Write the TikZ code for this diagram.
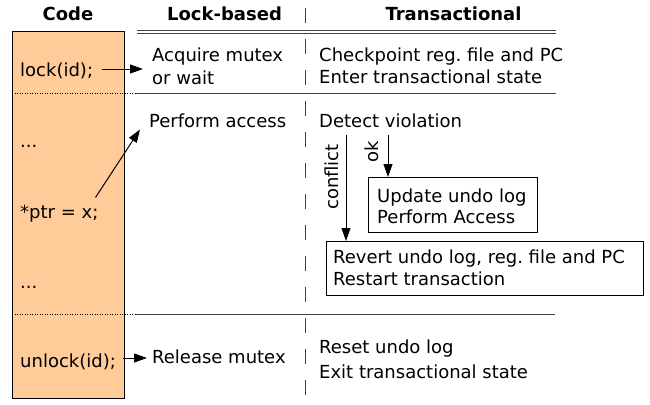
\documentclass[tikz,border=0pt]{standalone}
\usepackage{fontspec}
\setmainfont{DejaVu Sans}
\usetikzlibrary{arrows.meta}
\definecolor{codepeach}{HTML}{FFCC99}
\definecolor{rulegray}{HTML}{404040}

\begin{document}
\begin{tikzpicture}[x=1pt,y=-1pt,
  txt/.style={anchor=base west, inner sep=0pt, font=\fontsize{18}{22}\selectfont},
  hdr/.style={anchor=base, inner sep=0pt, font=\fontsize{18}{22}\selectfont\bfseries},
  arr/.style={-{Triangle[length=13pt,width=9pt]}, line width=1pt},
  rowline/.style={draw=rulegray, line width=1pt},
  dotline/.style={draw=black, line width=0.8pt, dash pattern=on 1pt off 1.5pt},
  colsep/.style={draw=rulegray, line width=1pt, dash pattern=on 15pt off 16pt},
  stepbox/.style={draw, line width=1pt, anchor=north west, inner sep=0pt}
]
\useasboundingbox (0,0) rectangle (650,404);

% code column
\node[draw, fill=codepeach, line width=1pt, anchor=north west, inner sep=0pt,
      minimum width=112pt, minimum height=367pt] (codebox) at (12,31) {};

% column headers
\node[hdr] (hcode) at (68,21) {Code};
\node[hdr] (hlock) at (224.5,21) {Lock-based};
\node[hdr] (htx) at (453.5,21) {Transactional};

% column separator and rules
\draw[colsep] (305,8) -- (305,396);
\draw[rowline] (137,31) -- (556,31);
\draw[rowline] (137,34) -- (556,34);
\draw[dotline] (codebox.west |- 0,93) -- (136,93);
\draw[rowline] (136,93) -- (556,93);
\draw[dotline] (codebox.west |- 0,314) -- (136,314);
\draw[rowline] (136,314) -- (555,314);

% code lines
\node[txt] (lock) at (20,77) {lock(id);};
\node[txt] (dots1) at (20,147) {...};
\node[txt] (ptr) at (20,218) {*ptr = x;};
\node[txt] (dots2) at (20,288) {...};
\node[txt] (unlock) at (20,367) {unlock(id);};

% lock-based column
\node[txt] (acq1) at (152,62) {Acquire mutex};
\node[txt] (acq2) at (152,84) {or wait};
\node[txt] (perf) at (149,127) {Perform access};
\node[txt] (rel) at (152,363) {Release mutex};

% transactional column
\node[txt] (chk1) at (319,61.5) {Checkpoint reg.\ file and PC};
\node[txt] (chk2) at (319,83.5) {Enter transactional state};
\node[txt] (det) at (319,127) {Detect violation};

\node[stepbox, minimum width=169pt, minimum height=55pt] (ubox) at (368,177) {};
\node[txt] (upd1) at (377,202) {Update undo log};
\node[txt] (upd2) at (377,223) {Perform Access};

\node[stepbox, minimum width=317pt, minimum height=54pt] (rbox) at (326,241) {};
\node[txt] (rev1) at (333,263) {Revert undo log, reg.\ file and PC};
\node[txt] (rev2) at (333,285) {Restart transaction};

\node[txt] (reset) at (319,353) {Reset undo log};
\node[txt] (exit) at (319,378) {Exit transactional state};

% branch labels
\node[txt, rotate=90] (lconf) at (338,210) {conflict};
\node[txt, rotate=90] (lok) at (378,163) {ok};

% connectors
\coordinate (lockout) at (101.7,69);
\draw[arr, shorten >=9pt] (lockout) -- (lockout -| acq1.west);
\draw[arr] ([xshift=-3pt,yshift=7pt]ptr.north east) -- ([xshift=-9pt,yshift=-2pt]perf.south west);
\coordinate (unlockout) at (123,358);
\draw[arr, shorten >=5pt] (unlockout) -- (unlockout -| rel.west);
\coordinate (cfltop) at (346,135);
\draw[arr] (cfltop) -- (cfltop |- rbox.north);
\coordinate (oktop) at (388,135);
\draw[arr] (oktop) -- (oktop |- ubox.north);
\end{tikzpicture}
\end{document}
